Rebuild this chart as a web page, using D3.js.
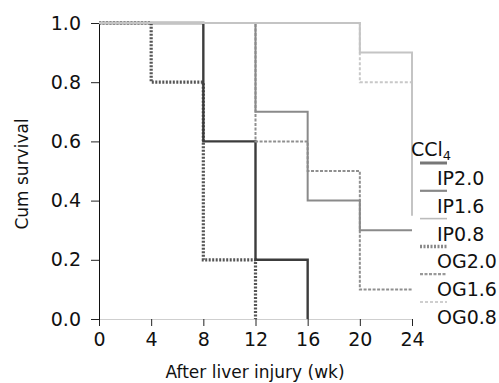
<!DOCTYPE html>
<html>
<head>
<meta charset="utf-8">
<script src="https://cdn.jsdelivr.net/npm/d3@7"></script>
<style>
  body { margin: 0; background: #fff; }
  svg text { font-family: "DejaVu Sans", Verdana, sans-serif; fill: #111; }
</style>
</head>
<body>
<figure id="km" style="margin:0"></figure>
<script>
// tick labels
const xTicks = [0, 4, 8, 12, 16, 20, 24];
const yTicks = [0, 0.2, 0.4, 0.6, 0.8, 1.0];

// groups (legend order)
const groups = ["IP2.0", "IP1.6", "IP0.8", "OG2.0", "OG1.6", "OG0.8"];

// event times (wk) and cumulative survival after each step
const ip20Times = [0, 8, 12, 16];
const ip20Surv  = [1.0, 0.6, 0.2, 0.0];
const ip16Times = [0, 12, 16, 20, 24];
const ip16Surv  = [1.0, 0.7, 0.4, 0.3, 0.3];
const ip08Times = [0, 20, 24];
const ip08Surv  = [1.0, 0.9, 0.35];
const og20Times = [0, 4, 8, 12];
const og20Surv  = [1.0, 0.8, 0.2, 0.0];
const og16Times = [0, 12, 16, 20, 24];
const og16Surv  = [1.0, 0.6, 0.5, 0.1, 0.1];
const og08Times = [0, 20, 24];
const og08Surv  = [1.0, 0.8, 0.35];

const W = 499, H = 383;
const mLeft = 99, mRight = 412, mTop = 23, mBottom = 319;

const styles = {
  "IP2.0": { color: "#3c3c3c", width: 2.4, dash: null, legColor: "#777", legWidth: 3 },
  "IP1.6": { color: "#8a8a8a", width: 2, dash: null, legColor: "#888", legWidth: 2.2 },
  "IP0.8": { color: "#c4c4c4", width: 2, dash: null, legColor: "#bbb", legWidth: 1.6 },
  "OG2.0": { color: "#555", width: 3.2, dash: "2,1.5", legColor: "#888", legWidth: 3.5 },
  "OG1.6": { color: "#8f8f8f", width: 2, dash: "3,1.5", legColor: "#999", legWidth: 2.2 },
  "OG0.8": { color: "#c8c8c8", width: 2, dash: "3,2", legColor: "#c0c0c0", legWidth: 1.6 }
};

const series = [
  { name: "OG2.0", t: og20Times, s: og20Surv },
  { name: "IP2.0", t: ip20Times, s: ip20Surv },
  { name: "OG1.6", t: og16Times, s: og16Surv },
  { name: "IP1.6", t: ip16Times, s: ip16Surv },
  { name: "OG0.8", t: og08Times, s: og08Surv },
  { name: "IP0.8", t: ip08Times, s: ip08Surv }
];

const svg = d3.select("figure#km")
  .append("svg")
  .attr("width", W)
  .attr("height", H);

const x = d3.scaleLinear().domain([0, 24]).range([mLeft, mRight]);
const y = d3.scaleLinear().domain([0, 1]).range([mBottom, mTop]);

// x axis
const gx = svg.append("g")
  .attr("transform", "translate(0," + mBottom + ")")
  .call(d3.axisBottom(x).tickValues(xTicks).tickFormat(d3.format("d")).tickSize(7).tickSizeOuter(0).tickPadding(7));
gx.select(".domain").attr("stroke", "#cfcfcf");
gx.selectAll(".tick line").attr("stroke", "#222");
gx.selectAll("text").style("font-size", "19px");

// y axis
const gy = svg.append("g")
  .attr("transform", "translate(" + mLeft + ",0)")
  .call(d3.axisLeft(y).tickValues(yTicks).tickFormat(d3.format(".1f")).tickSize(8).tickSizeOuter(0).tickPadding(10));
gy.select(".domain").attr("stroke", "#111");
gy.selectAll(".tick line").attr("stroke", "#222");
gy.selectAll("text").style("font-size", "19px");

// step curves
const line = d3.line()
  .x(d => x(d[0]))
  .y(d => y(d[1]))
  .curve(d3.curveStepAfter);

series.forEach(sr => {
  const st = styles[sr.name];
  svg.append("path")
    .datum(sr.t.map((t, i) => [t, sr.s[i]]))
    .attr("fill", "none")
    .attr("stroke", st.color)
    .attr("stroke-width", st.width)
    .attr("stroke-dasharray", st.dash)
    .attr("d", line);
});

// axis titles
svg.append("text")
  .attr("x", 255)
  .attr("y", 378)
  .attr("text-anchor", "middle")
  .style("font-size", "17px")
  .text("After liver injury (wk)");

svg.append("text")
  .attr("transform", "translate(28,174) rotate(-90)")
  .attr("text-anchor", "middle")
  .style("font-size", "17px")
  .text("Cum survival");

// legend
const leg = svg.append("g");
const title = leg.append("text")
  .attr("x", 411)
  .attr("y", 156)
  .style("font-size", "19px");
title.append("tspan").text("CCl");
title.append("tspan").attr("dy", 4).style("font-size", "13px").text("4");

groups.forEach((g, i) => {
  const st = styles[g];
  const ly = 163 + i * 27.8;
  leg.append("line")
    .attr("x1", 420).attr("x2", 447)
    .attr("y1", ly).attr("y2", ly)
    .attr("stroke", st.legColor)
    .attr("stroke-width", st.legWidth)
    .attr("stroke-dasharray", st.dash);
  leg.append("text")
    .attr("x", 437)
    .attr("y", ly + 22)
    .style("font-size", "19px")
    .text(g);
});
</script>
</body>
</html>
